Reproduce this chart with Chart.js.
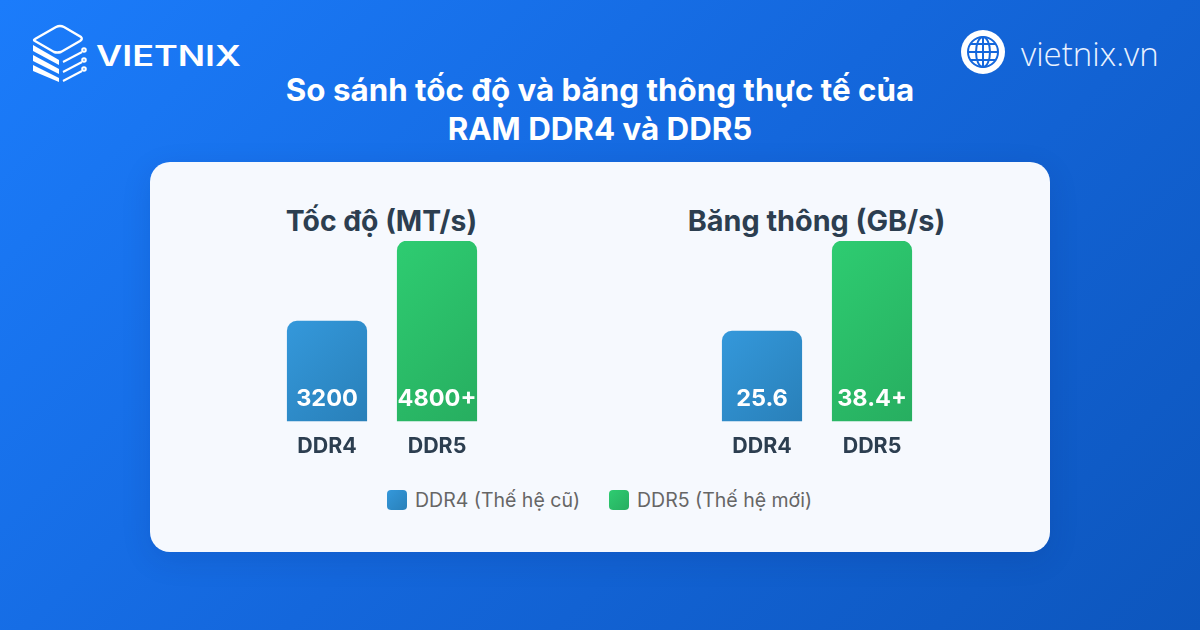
<!DOCTYPE html>
<html lang="vi">
<head>
<meta charset="utf-8">
<title>So sánh tốc độ và băng thông RAM DDR4 và DDR5</title>
<script src="https://cdn.jsdelivr.net/npm/chart.js@4"></script>
<style>
  html, body { margin: 0; padding: 0; }
  body {
    position: relative;
    width: 1200px;
    height: 630px;
    overflow: hidden;
    font-family: Inter, "Noto Sans", sans-serif;
    background: linear-gradient(135deg, #1b7cfb 0%, #1467dc 50%, #0d56bd 100%);
  }
  #heading {
    position: absolute; left: 0; top: 71px; width: 1200px;
    text-align: center; color: #fff; font-size: 31.3px; font-weight: 700; line-height: 39px;
  }
  #card {
    position: absolute; left: 150px; top: 162px; width: 900px; height: 390px;
    border-radius: 20px; background: #f6f9fe;
    box-shadow: 0 8px 30px rgba(0, 30, 90, 0.12);
  }
  .panel { position: absolute; top: 241px; width: 320px; height: 222px; }
  #speedPanel { left: 222px; }
  #bandwidthPanel { left: 657px; }
  .panelTitle {
    position: absolute; top: 201px; width: 400px; height: 40px; line-height: 40px;
    text-align: center; color: #2c3e50; font-weight: 700; white-space: nowrap;
  }
  #speedTitle { left: 181.5px; font-size: 28.3px; }
  #bandwidthTitle { left: 616.5px; font-size: 28.8px; }
  #legend {
    position: absolute; left: 387px; top: 488px; height: 24px;
    display: flex; align-items: center; color: #666; font-size: 19.5px;
  }
  #legend span.box { width: 20px; height: 20px; border-radius: 4px; margin-right: 8px; }
  #legend span.label { margin-right: 29px; }
  #site {
    position: absolute; left: 1021px; top: 33px; color: #eaf2ff;
    font-family: "Open Sans", sans-serif; font-weight: 300; font-size: 33px; line-height: 42px;
  }
  svg { position: absolute; }
</style>
</head>
<body>

<svg style="left:30px;top:22px" width="215" height="62" viewBox="0 0 215 62" fill="none">
  <path d="M5 17 L26 5 Q30 3 34 5 L51 15 Q53 17 50 19 L31 30 Q27 31 24 30 L5 19 Q3 18 5 17 Z" stroke="#fff" stroke-width="2.4"/>
  <g fill="#fff">
    <path d="M3 23 L29 38 L29 43 L3 29 Z"/>
    <path d="M3 33 L29 47 L29 52 L3 39 Z"/>
    <path d="M3 43 L29 56 L29 60 L3 49 Z"/>
  </g>
  <g stroke="#fff" stroke-width="2">
    <path d="M33 40 L52 30"/>
    <path d="M33 50 L52 40"/>
    <path d="M33 59 L52 49"/>
    <circle cx="54" cy="28" r="1.8"/>
    <circle cx="54" cy="38" r="1.8"/>
    <circle cx="54" cy="47" r="1.8"/>
  </g>
  <text x="66" y="44" fill="#fff" font-family="Inter" font-weight="600" font-size="28" textLength="145" lengthAdjust="spacingAndGlyphs">VIETNIX</text>
</svg>

<svg style="left:960px;top:29px" width="46" height="46" viewBox="0 0 46 46" fill="none">
  <circle cx="23" cy="23" r="22" fill="#fff"/>
  <g stroke="#1467dc" stroke-width="2">
    <circle cx="23" cy="23" r="15"/>
    <ellipse cx="23" cy="23" rx="7" ry="15"/>
    <path d="M23 8 V38 M8 23 H38 M10 15 H36 M10 31 H36"/>
  </g>
</svg>
<div id="site">vietnix.vn</div>

<div id="heading">So sánh tốc độ và băng thông thực tế của<br>RAM DDR4 và DDR5</div>

<div id="card"></div>
<div class="panelTitle" id="speedTitle"></div>
<div class="panelTitle" id="bandwidthTitle"></div>
<div class="panel" id="speedPanel"><canvas id="speedChart"></canvas></div>
<div class="panel" id="bandwidthPanel"><canvas id="bandwidthChart"></canvas></div>

<div id="legend">
  <span class="box" style="background:linear-gradient(135deg,#3498db,#2980b9)"></span><span class="label" id="legendOld"></span>
  <span class="box" style="background:linear-gradient(135deg,#2ecc71,#27ae60)"></span><span class="label" id="legendNew"></span>
</div>

<script>
const categories = ["DDR4", "DDR5"];
const speedTitle = "Tốc độ (MT/s)";
const speedValues = [3200, 4800];
const speedLabels = ["3200", "4800+"];
const bandwidthTitle = "Băng thông (GB/s)";
const bandwidthValues = [25.6, 38.4];
const bandwidthLabels = ["25.6", "38.4+"];
const legendNames = ["DDR4 (Thế hệ cũ)", "DDR5 (Thế hệ mới)"];

const textColor = "#2c3e50";
const gradientStops = [["#3498db", "#2980b9"], ["#2ecc71", "#27ae60"]];

document.getElementById("speedTitle").textContent = speedTitle;
document.getElementById("bandwidthTitle").textContent = bandwidthTitle;
document.getElementById("legendOld").textContent = legendNames[0];
document.getElementById("legendNew").textContent = legendNames[1];

function barGradient(ctx) {
  const stops = gradientStops[ctx.dataIndex] || gradientStops[0];
  const { x, y } = ctx.chart.scales;
  if (!x || !y || !ctx.parsed) return stops[0];
  // bar elements have no position yet when this runs, so ask the scales
  const cx = x.getPixelForValue(ctx.dataIndex);
  const top = y.getPixelForValue(ctx.parsed.y);
  // also called once before layout, when the scales give NaN
  if (!Number.isFinite(cx) || !Number.isFinite(top) || !Number.isFinite(y.bottom)) return stops[0];
  // same geometry as a css 135deg gradient on the bar box
  const midY = (top + y.bottom) / 2;
  const half = (80 + y.bottom - top) / 4;
  const g = ctx.chart.ctx.createLinearGradient(cx - half, midY - half, cx + half, midY + half);
  g.addColorStop(0, stops[0]);
  g.addColorStop(1, stops[1]);
  return g;
}

// writes the value near the foot of each bar
const valueLabels = {
  id: "valueLabels",
  afterDatasetsDraw(chart, args, opts) {
    const c = chart.ctx;
    c.save();
    c.fillStyle = "#fff";
    c.font = "700 23.5px Inter";
    c.textAlign = "center";
    c.textBaseline = "middle";
    chart.getDatasetMeta(0).data.forEach((bar, i) => {
      c.fillText(opts.texts[i], bar.x, chart.scales.y.bottom - 22.5);
    });
    c.restore();
  }
};

function makeChart(id, values, labels, yMin, yMax) {
  return new Chart(document.getElementById(id), {
    type: "bar",
    data: {
      labels: categories,
      datasets: [{
        data: values,
        barThickness: 79.5,
        borderRadius: { topLeft: 10, topRight: 10 },
        borderSkipped: "bottom",
        backgroundColor: barGradient
      }]
    },
    options: {
      responsive: true,
      maintainAspectRatio: false,
      animation: false,
      layout: { padding: { left: 50, right: 50 } },
      plugins: {
        legend: { display: false },
        tooltip: { enabled: false },
        title: { display: false },
        valueLabels: { texts: labels }
      },
      scales: {
        x: {
          grid: { display: false },
          border: { display: false },
          ticks: {
            color: textColor,
            padding: 4,
            font: { family: "Inter", size: 21.4, weight: "700" }
          }
        },
        y: { display: false, min: yMin, max: yMax }
      }
    },
    plugins: [valueLabels]
  });
}

// the reference bars are drawn on truncated axes
makeChart("speedChart", speedValues, speedLabels, 1200, 4800);
makeChart("bandwidthChart", bandwidthValues, bandwidthLabels, 12.8, 38.4);
</script>
</body>
</html>
